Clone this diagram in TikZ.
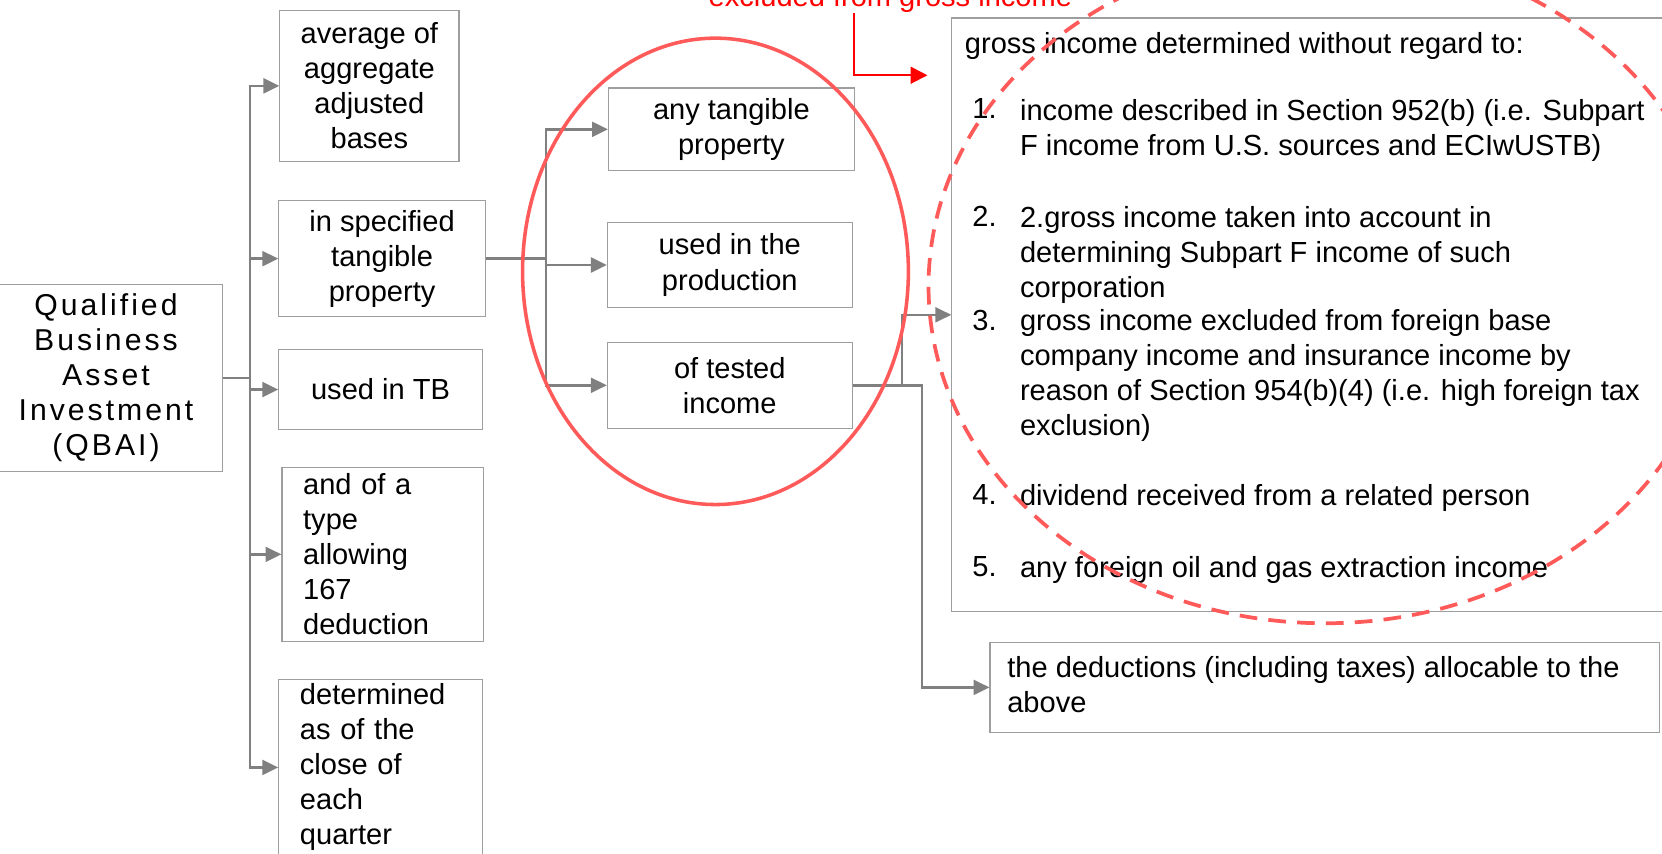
\documentclass[tikz,border=0pt]{standalone}
\usepackage{fontspec}
\setmainfont{Liberation Sans}
\newfontfamily\spacedfont[LetterSpace=10]{Liberation Sans}
\usetikzlibrary{arrows.meta}
\definecolor{boxgray}{HTML}{9E9E9E}
\definecolor{linegray}{HTML}{808080}
\definecolor{ringred}{HTML}{FF5A5A}
\newcommand{\boxfont}{\fontsize{15.6}{18.8}\selectfont}
\tikzset{
  box/.style={draw=boxgray, line width=0.6pt, inner sep=0pt, align=center, font=\boxfont},
  lbox/.style={box, align=left, inner xsep=0.4cm},
  conn/.style={draw=linegray, line width=1.3pt, -{Triangle[length=8.5pt,width=8pt]}},
  redconn/.style={draw=red, line width=1.1pt, -{Triangle[length=9pt,width=9pt]}},
  item/.style={anchor=north west, inner sep=0pt, align=left, font=\boxfont},
}
\begin{document}
\begin{tikzpicture}
    \useasboundingbox (0,0) rectangle (31.36,-16.10);
    \clip (0,0) rectangle (31.36,-16.10);
    % Left: QBAI and its parts
    \node[box, minimum width=4.40cm, minimum height=3.54cm, font=\fontsize{16.2}{18.8}\selectfont] (qbai) at (2.00,-7.13)
        {\spacedfont Qualified\\\spacedfont Business\\\spacedfont Asset\\\spacedfont Investment\\\spacedfont (QBAI)};
    \node[box, minimum width=3.38cm, minimum height=2.84cm] (avg) at (6.97,-1.62) {average of\\aggregate\\adjusted\\bases};
    \node[box, minimum width=3.90cm, minimum height=2.20cm] (spec) at (7.21,-4.88) {in specified\\tangible\\property};
    \node[box, minimum width=3.84cm, minimum height=1.50cm] (usedtb) at (7.18,-7.35) {used in TB};
    \node[lbox, text width=3.00cm, minimum height=3.28cm] (type) at (7.22,-10.46) {and of a\\type\\allowing\\167\\deduction};
    \node[lbox, text width=3.04cm, minimum height=3.32cm] (quarter) at (7.18,-14.48) {determined\\as of the\\close of\\each\\quarter};
    \coordinate (trunkA) at (4.72,0);
    \foreach \b in {avg,spec,usedtb,type,quarter} {
        \draw[conn] (qbai.east) -- (qbai.east -| trunkA) |- (\b.west);
    }
    % Middle: specified tangible property
    \node[box, minimum width=4.64cm, minimum height=1.56cm] (tangible) at (13.80,-2.44) {any tangible\\property};
    \node[box, minimum width=4.62cm, minimum height=1.60cm] (production) at (13.77,-5.00) {used in the\\production};
    \node[box, minimum width=4.62cm, minimum height=1.62cm] (tested) at (13.77,-7.27) {of tested\\income};
    \coordinate (trunkB) at (10.30,0);
    \foreach \b in {tangible,production,tested} {
        \draw[conn] (spec.east) -- (spec.east -| trunkB) |- (\b.west);
    }
    % Right: tested income
    \node[box, minimum width=13.84cm, minimum height=11.20cm] (gross) at (24.88,-5.94) {};
    \node[item] (head) at (18.20,-0.60) {gross income determined without regard to:};
    \node[item] (n1) at (18.34,-1.86) {1.};
    \node[item] (t1) at (19.24,-1.86) {income described in Section 952(b) (i.e. Subpart\\F income from U.S. sources and ECIwUSTB)};
    \node[item] (n2) at (18.34,-3.88) {2.};
    \node[item] (t2) at (19.24,-3.88) {2.gross income taken into account in\\determining Subpart F income of such\\corporation};
    \node[item] (n3) at (18.34,-5.84) {3.};
    \node[item] (t3) at (19.24,-5.84) {gross income excluded from foreign base\\company income and insurance income by\\reason of Section 954(b)(4) (i.e. high foreign tax\\exclusion)};
    \node[item] (n4) at (18.34,-9.14) {4.};
    \node[item] (t4) at (19.24,-9.14) {dividend received from a related person};
    \node[item] (n5) at (18.34,-10.50) {5.};
    \node[item] (t5) at (19.24,-10.50) {any foreign oil and gas extraction income};
    \node[box, minimum width=12.64cm, minimum height=1.70cm] (ded) at (25.00,-12.97) {};
    \node[item] (dedtext) at (19.00,-12.38) {the deductions (including taxes) allocable to the\\above};
    \coordinate (forkA) at (17.02,0);
    \coordinate (forkB) at (17.40,0);
    \draw[conn] (tested.east) -- (tested.east -| forkA) |- (gross.west);
    \draw[conn] (tested.east) -- (tested.east -| forkB) |- (ded.west);
    % Red note and rings
    \node[anchor=base, inner sep=0pt, text=red, font=\boxfont] (excl) at (16.80,-0.12) {excluded from gross income};
    \coordinate (redstart) at (16.12,0);
    \coordinate (redtip) at (17.50,-1.42);
    \draw[redconn] (excl.south -| redstart) |- (redtip);
    \draw[ringred, line width=1.9pt] (13.50,-5.12) ellipse (3.64 and 4.40);
    \draw[ringred, line width=2pt, dash pattern=on 9.5pt off 6pt] (25.00,-5.40) ellipse (7.48 and 6.36);
\end{tikzpicture}
\end{document}
